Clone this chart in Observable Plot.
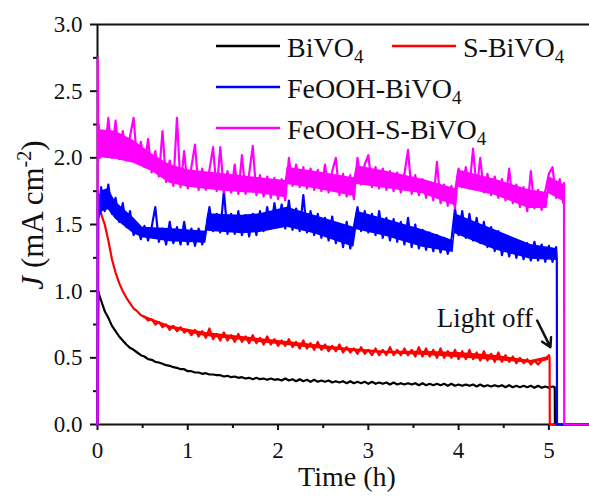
<!DOCTYPE html>
<html>
<head>
<meta charset="utf-8">
<script src="https://cdn.jsdelivr.net/npm/d3@7"></script>
<script src="https://cdn.jsdelivr.net/npm/@observablehq/plot@0.6"></script>
<style>
  html, body { margin: 0; padding: 0; background: #fff; }
  #chart svg { display: block; }
  #chart svg text, #chart svg tspan { font-family: 'Liberation Serif', 'Times New Roman', Times, serif !important; }
</style>
</head>
<body>
<div id="chart"></div>
<script>
// ---------- data ----------
const seriesNames = ["BiVO4", "S-BiVO4", "FeOOH-BiVO4", "FeOOH-S-BiVO4"];
const seriesColors = ["#000000", "#ff0000", "#0000ff", "#ff00ff"];

// sampling times (h) of the main record: 0.04, 0.08, ..., 5.00
const hours = d3.range(1, 126).map(i => +(i * 0.04).toFixed(2));

const xTicks = [0, 1, 2, 3, 4, 5];
const xMinorTicks = [0.5, 1.5, 2.5, 3.5, 4.5];
const yTicks = [0, 0.5, 1.0, 1.5, 2.0, 2.5, 3.0];
const yMinorTicks = [0.25, 0.75, 1.25, 1.75, 2.25, 2.75];

// BiVO4 (black)
const bivo4Head = [[0, 0], [0.01, 1.0], [0.02, 0.97]];
const bivo4 = [
  0.93, 0.85, 0.80, 0.74, 0.70, 0.66, 0.63, 0.60, 0.575, 0.56,
  0.54, 0.52, 0.51, 0.49, 0.485, 0.47, 0.465, 0.455, 0.445, 0.44,
  0.43, 0.425, 0.415, 0.415, 0.40, 0.40, 0.39, 0.39, 0.38, 0.385,
  0.375, 0.375, 0.37, 0.37, 0.36, 0.365, 0.355, 0.36, 0.35, 0.355,
  0.345, 0.35, 0.34, 0.35, 0.34, 0.345, 0.335, 0.345, 0.335, 0.34,
  0.33, 0.345, 0.33, 0.34, 0.325, 0.34, 0.325, 0.335, 0.32, 0.335,
  0.32, 0.33, 0.32, 0.33, 0.315, 0.325, 0.315, 0.325, 0.31, 0.325,
  0.31, 0.32, 0.31, 0.32, 0.305, 0.32, 0.305, 0.315, 0.305, 0.315,
  0.30, 0.315, 0.30, 0.31, 0.30, 0.31, 0.30, 0.31, 0.295, 0.31,
  0.295, 0.305, 0.295, 0.305, 0.295, 0.305, 0.29, 0.305, 0.29, 0.30,
  0.29, 0.30, 0.29, 0.30, 0.285, 0.30, 0.285, 0.295, 0.285, 0.295,
  0.285, 0.295, 0.28, 0.295, 0.28, 0.29, 0.28, 0.29, 0.28, 0.29,
  0.275, 0.29, 0.275, 0.285, 0.275
];
const bivo4Tail = [[5.04, 0.285], [5.065, 0.28], [5.067, 0], [5.45, 0]];

// S-BiVO4 (red)
const sBivo4Head = [[0, 0], [0.01, 1.55], [0.03, 1.62]];
const sBivo4 = [
  1.58, 1.50, 1.38, 1.24, 1.14, 1.06, 1.00, 0.95, 0.91, 0.87,
  0.85, 0.82, 0.81, 0.78, 0.79, 0.75, 0.77, 0.73, 0.75, 0.71,
  0.74, 0.70, 0.73, 0.69, 0.71, 0.67, 0.71, 0.66, 0.70, 0.65,
  0.72, 0.64, 0.68, 0.63, 0.69, 0.63, 0.67, 0.62, 0.68, 0.62,
  0.66, 0.61, 0.67, 0.61, 0.65, 0.60, 0.66, 0.60, 0.64, 0.59,
  0.63, 0.59, 0.64, 0.58, 0.62, 0.57, 0.63, 0.57, 0.61, 0.56,
  0.62, 0.56, 0.60, 0.55, 0.59, 0.55, 0.60, 0.54, 0.58, 0.54,
  0.57, 0.53, 0.58, 0.53, 0.56, 0.52, 0.57, 0.52, 0.56, 0.52,
  0.58, 0.52, 0.56, 0.52, 0.57, 0.52, 0.56, 0.51, 0.58, 0.51,
  0.57, 0.51, 0.56, 0.50, 0.57, 0.50, 0.55, 0.50, 0.56, 0.49,
  0.55, 0.49, 0.56, 0.49, 0.54, 0.48, 0.55, 0.48, 0.53, 0.47,
  0.54, 0.47, 0.52, 0.47, 0.51, 0.46, 0.50, 0.46, 0.49, 0.45,
  0.48, 0.45, 0.48, 0.49, 0.52
];
const sBivo4Tail = [[5.008, 0.50], [5.01, 0], [5.45, 0]];
// dense-noise core of the red record
const sBandT  = [0.50, 0.80, 1.20, 1.60, 2.00, 2.40, 2.80, 3.20, 3.60, 4.00, 4.40, 4.80, 5.00];
const sBandLo = [0.80, 0.72, 0.66, 0.63, 0.60, 0.57, 0.55, 0.53, 0.52, 0.50, 0.48, 0.46, 0.48];
const sBandHi = [0.82, 0.74, 0.69, 0.66, 0.63, 0.60, 0.57, 0.55, 0.55, 0.54, 0.52, 0.48, 0.51];

// FeOOH-BiVO4 (blue)
const feBivo4Head = [[0, 0], [0.004, 1.75], [0.01, 1.55], [0.02, 1.72], [0.03, 1.58]];
const feBivo4 = [
  1.78, 1.60, 1.80, 1.58, 1.70, 1.52, 1.66, 1.48, 1.60, 1.42,
  1.50, 1.39, 1.49, 1.38, 1.48, 1.63, 1.37, 1.47, 1.35, 1.52,
  1.36, 1.48, 1.35, 1.52, 1.35, 1.47, 1.34, 1.47, 1.35, 1.46,
  1.63, 1.45, 1.58, 1.44, 1.75, 1.43, 1.58, 1.43, 1.60, 1.42,
  1.57, 1.41, 1.58, 1.42, 1.60, 1.45, 1.63, 1.47, 1.66, 1.48,
  1.65, 1.47, 1.68, 1.46, 1.62, 1.45, 1.72, 1.44, 1.60, 1.42,
  1.58, 1.40, 1.55, 1.38, 1.56, 1.36, 1.50, 1.33, 1.52, 1.32,
  1.48, 1.63, 1.45, 1.60, 1.44, 1.58, 1.42, 1.60, 1.40, 1.55,
  1.38, 1.54, 1.37, 1.52, 1.35, 1.55, 1.33, 1.50, 1.32, 1.46,
  1.31, 1.44, 1.30, 1.42, 1.29, 1.40, 1.28, 1.38, 1.62, 1.42,
  1.60, 1.40, 1.58, 1.38, 1.55, 1.36, 1.52, 1.33, 1.48, 1.30,
  1.45, 1.27, 1.40, 1.26, 1.38, 1.25, 1.37, 1.24, 1.36, 1.23,
  1.37, 1.23, 1.35, 1.22, 1.34
];
const feBivo4Tail = [[5.04, 1.22], [5.08, 1.33], [5.088, 1.24], [5.09, 0], [5.45, 0]];
// dense-noise core of the blue record
const feBandT  = [0.03, 0.12, 0.20, 0.40, 0.50, 0.80, 1.20, 1.22, 1.60, 1.80, 2.10, 2.40, 2.84, 2.87, 3.20, 3.60, 3.94, 3.96, 4.40, 4.80, 5.085];
const feBandLo = [1.59, 1.61, 1.54, 1.43, 1.40, 1.37, 1.36, 1.45, 1.43, 1.44, 1.48, 1.43, 1.33, 1.46, 1.41, 1.33, 1.29, 1.43, 1.31, 1.24, 1.23];
const feBandHi = [1.75, 1.77, 1.67, 1.55, 1.48, 1.47, 1.45, 1.58, 1.57, 1.58, 1.63, 1.57, 1.48, 1.60, 1.54, 1.46, 1.38, 1.58, 1.46, 1.35, 1.32];

// FeOOH-S-BiVO4 (magenta)
const feSBivo4Head = [[0, 0], [0.003, 2.75], [0.008, 1.98], [0.015, 2.25], [0.025, 2.0]];
const feSBivo4 = [
  2.18, 2.02, 2.30, 2.00, 2.28, 1.99, 2.20, 1.98, 2.16, 2.30,
  1.96, 2.12, 1.93, 2.14, 1.89, 2.05, 1.86, 2.20, 1.82, 1.98,
  1.79, 2.30, 1.78, 2.05, 1.77, 1.93, 2.10, 1.76, 1.92, 1.76,
  1.91, 2.08, 1.75, 2.08, 1.74, 1.90, 1.74, 1.95, 1.73, 2.02,
  1.73, 1.88, 2.09, 1.72, 1.87, 1.71, 1.86, 1.70, 1.85, 1.69,
  1.84, 1.68, 2.00, 1.79, 1.95, 1.78, 1.93, 1.77, 1.92, 1.76,
  1.91, 1.75, 1.95, 1.74, 1.90, 2.00, 1.72, 1.88, 1.71, 1.87,
  1.69, 2.00, 1.80, 1.95, 2.02, 1.78, 1.93, 1.77, 1.92, 1.76,
  1.90, 1.75, 1.89, 1.74, 1.88, 2.06, 1.73, 1.87, 1.72, 1.84,
  1.70, 1.82, 1.68, 1.97, 1.66, 1.80, 1.64, 1.79, 1.62, 1.92,
  1.78, 1.93, 1.77, 2.07, 1.76, 2.00, 1.74, 1.88, 1.72, 1.86,
  1.70, 1.84, 1.68, 1.92, 1.66, 1.80, 1.63, 1.78, 1.60, 1.90,
  1.62, 1.76, 1.61, 1.75, 1.88
];
const feSBivo4Tail = [[5.04, 1.93], [5.08, 1.70], [5.12, 1.84], [5.16, 1.66], [5.168, 1.81], [5.17, 0], [5.45, 0]];
// dense-noise core of the magenta record
const feSBandT  = [0.03, 0.20, 0.40, 0.60, 0.80, 1.00, 1.40, 1.80, 2.08, 2.10, 2.40, 2.84, 2.87, 3.20, 3.60, 3.96, 3.99, 4.40, 4.78, 4.98, 5.00, 5.165];
const feSBandLo = [2.00, 1.99, 1.96, 1.90, 1.81, 1.78, 1.75, 1.73, 1.70, 1.80, 1.77, 1.71, 1.80, 1.77, 1.73, 1.64, 1.78, 1.72, 1.62, 1.62, 1.73, 1.67];
const feSBandHi = [2.21, 2.20, 2.13, 2.03, 1.95, 1.91, 1.88, 1.85, 1.83, 1.93, 1.90, 1.85, 1.94, 1.90, 1.84, 1.77, 1.91, 1.84, 1.76, 1.74, 1.86, 1.80];

// annotation
const noteText = ["Light off"];
const noteX = [4.29];
const noteY = [0.73];
const arrowFrom = [4.87, 0.78];
const arrowTo = [5.017, 0.58];

// ---------- build rows ----------
function build(name, head, vals, tail) {
  return [
    ...head.map(([t, J]) => ({t, J, series: name})),
    ...vals.map((J, i) => ({t: hours[i], J, series: name})),
    ...tail.map(([t, J]) => ({t, J, series: name}))
  ];
}
function band(name, T, lo, hi) {
  return T.map((t, i) => ({t, lo: lo[i], hi: hi[i], series: name}));
}
const rows = [
  ...build(seriesNames[0], bivo4Head, bivo4, bivo4Tail),
  ...build(seriesNames[1], sBivo4Head, sBivo4, sBivo4Tail),
  ...build(seriesNames[2], feBivo4Head, feBivo4, feBivo4Tail),
  ...build(seriesNames[3], feSBivo4Head, feSBivo4, feSBivo4Tail)
];
const bands = [
  ...band(seriesNames[1], sBandT, sBandLo, sBandHi),
  ...band(seriesNames[2], feBandT, feBandLo, feBandHi),
  ...band(seriesNames[3], feSBandT, feSBandLo, feSBandHi)
];

const FONT = "'Liberation Serif', 'Times New Roman', Times, serif";

const chart = Plot.plot({
  width: 589,
  height: 497,
  marginLeft: 97,
  marginRight: 0,
  marginTop: 24,
  marginBottom: 73,
  style: {fontFamily: FONT, background: "#fff", color: "#111", overflow: "visible"},
  x: {domain: [0, 5.45]},
  y: {domain: [0, 3]},
  color: {domain: seriesNames, range: seriesColors},
  marks: [
    Plot.ruleY([3], {stroke: "#111", strokeWidth: 2}),
    Plot.ruleY([0], {stroke: "#111", strokeWidth: 2}),
    Plot.ruleX([0], {stroke: "#111", strokeWidth: 2}),
    Plot.axisX({ticks: xTicks, tickSize: 6, tickPadding: 11, strokeWidth: 2, fontSize: 23, label: null, tickFormat: d => String(d)}),
    Plot.axisX({ticks: xMinorTicks, tickSize: 4, strokeWidth: 2, tickFormat: () => "", label: null}),
    Plot.axisY({ticks: yTicks, tickSize: 7, tickPadding: 8, strokeWidth: 2, fontSize: 23, label: null, tickFormat: d3.format(".1f")}),
    Plot.axisY({ticks: yMinorTicks, tickSize: 4, strokeWidth: 2, tickFormat: () => "", label: null}),
    Plot.areaY(bands, {x: "t", y1: "lo", y2: "hi", z: "series", fill: "series", fillOpacity: 1}),
    Plot.line(rows, {x: "t", y: "J", z: "series", stroke: "series", strokeWidth: 2.2, curve: "linear"}),
    Plot.text(noteText, {x: noteX, y: noteY, text: d => d, fontSize: 27, textAnchor: "middle", lineAnchor: "bottom", fill: "#111"}),
    Plot.arrow([0], {x1: () => arrowFrom[0], y1: () => arrowFrom[1], x2: () => arrowTo[0], y2: () => arrowTo[1], stroke: "#111", strokeWidth: 2.5, headLength: 10})
  ]
});

document.getElementById("chart").appendChild(chart);

// ---------- rich-text labels and legend ----------
const svg = d3.select(chart);

// x axis title
svg.append("text")
  .attr("x", 347).attr("y", 486)
  .attr("text-anchor", "middle")
  .attr("font-size", 28).attr("fill", "#111")
  .text("Time (h)");

// y axis title: J (mA cm^-2)
const yl = svg.append("text")
  .attr("transform", "translate(43,215) rotate(-90)")
  .attr("text-anchor", "middle")
  .attr("font-size", 31).attr("fill", "#111");
yl.append("tspan").attr("font-style", "italic").text("J");
yl.append("tspan").text(" (mA cm");
yl.append("tspan").attr("font-size", 20).attr("dy", -12).text("-2");
yl.append("tspan").attr("dy", 12).text(")");

// legend
const legendItems = [
  {name: "BiVO", color: seriesColors[0], x: 216, y: 46},
  {name: "S-BiVO", color: seriesColors[1], x: 392, y: 46},
  {name: "FeOOH-BiVO", color: seriesColors[2], x: 216, y: 87},
  {name: "FeOOH-S-BiVO", color: seriesColors[3], x: 216, y: 128}
];
const lg = svg.append("g");
legendItems.forEach(it => {
  lg.append("line")
    .attr("x1", it.x).attr("x2", it.x + 64)
    .attr("y1", it.y).attr("y2", it.y)
    .attr("stroke", it.color).attr("stroke-width", 2.5);
  const t = lg.append("text")
    .attr("x", it.x + 71).attr("y", it.y + 11)
    .attr("text-anchor", "start")
    .attr("font-size", 28).attr("fill", "#111");
  t.append("tspan").text(it.name);
  t.append("tspan").attr("font-size", 19).attr("dy", 6).text("4");
});

svg.selectAll("text").style("font-family", FONT);
</script>
</body>
</html>
